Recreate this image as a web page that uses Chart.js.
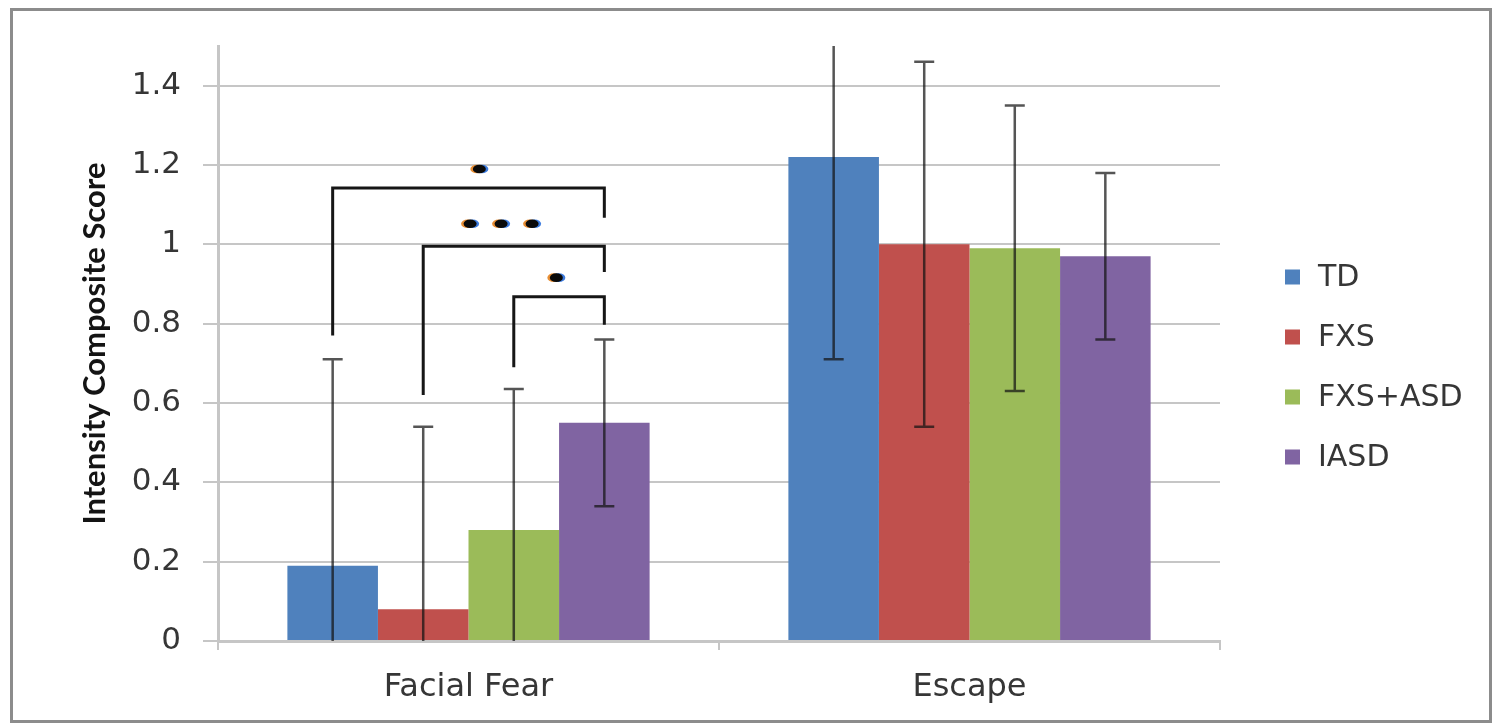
<!DOCTYPE html>
<html>
<head>
<meta charset="utf-8">
<title>Intensity Composite Score</title>
<script src="https://cdn.jsdelivr.net/npm/chart.js@4.4.1/dist/chart.umd.min.js"></script>
<style>
  html, body { margin: 0; padding: 0; background: #ffffff; }
  canvas { display: block; }
</style>
</head>
<body>
<canvas id="chart" width="1500" height="727"></canvas>
<script>
// ---- data ----
const categories = ['Facial Fear', 'Escape'];
const groups = ['TD', 'FXS', 'FXS+ASD', 'IASD'];

const tdMeans     = [0.19, 1.22];
const fxsMeans    = [0.08, 1.00];
const fxsAsdMeans = [0.28, 0.99];
const iasdMeans   = [0.55, 0.97];

// standard deviations (error bars, +/-)
const tdSD     = [0.52, 0.51];
const fxsSD    = [0.46, 0.46];
const fxsAsdSD = [0.355, 0.36];
const iasdSD   = [0.21, 0.21];

const yTickValues = [0, 0.2, 0.4, 0.6, 0.8, 1, 1.2, 1.4];
const yTickLabels = ['0', '0.2', '0.4', '0.6', '0.8', '1', '1.2', '1.4'];
const yAxisMax = 1.5;

// pairwise comparisons within Facial Fear (group indices, bracket heights in score units)
const comparisons = [
  { from: 0, to: 3, top: 1.142, leftFoot: 0.77, rightFoot: 1.067, stars: 1, starLevel: 1.19,  at: 0.54 },
  { from: 1, to: 3, top: 0.995, leftFoot: 0.62, rightFoot: 0.93,  stars: 3, starLevel: 1.052, at: 0.43 },
  { from: 2, to: 3, top: 0.868, leftFoot: 0.69, rightFoot: 0.797, stars: 1, starLevel: 0.916, at: 0.47 }
];

const groupColors = ['#4F81BD', '#C0504D', '#9BBB59', '#8064A2'];
const groupMeans = [tdMeans, fxsMeans, fxsAsdMeans, iasdMeans];
const groupSD = [tdSD, fxsSD, fxsAsdSD, iasdSD];

const TEXT = '#363636';
const GRID = '#c6c6c6';
const FONT = 'DejaVu Sans';

// ---- plugins ----
const frame = {
  id: 'frame',
  beforeDraw(chart) {
    const { ctx, width, height } = chart;
    ctx.save();
    ctx.fillStyle = '#ffffff';
    ctx.fillRect(0, 0, width, height);
    ctx.strokeStyle = '#8c8c8c';
    ctx.lineWidth = 3;
    ctx.strokeRect(11.5, 9.5, width - 21, height - 15);
    ctx.restore();
  }
};

const errorBars = {
  id: 'errorBars',
  afterDatasetsDraw(chart) {
    const { ctx, chartArea, scales: { y } } = chart;
    ctx.save();
    ctx.beginPath();
    ctx.rect(chartArea.left, chartArea.top, chartArea.right - chartArea.left, chartArea.bottom - chartArea.top);
    ctx.clip();
    ctx.strokeStyle = 'rgba(20,20,20,0.72)';
    ctx.lineWidth = 2.5;
    chart.data.datasets.forEach((ds, i) => {
      chart.getDatasetMeta(i).data.forEach((bar, j) => {
        const v = ds.data[j], sd = ds.sd[j];
        const yHi = y.getPixelForValue(v + sd);
        const yLo = y.getPixelForValue(v - sd);
        const x = bar.x;
        ctx.beginPath();
        ctx.moveTo(x, yLo); ctx.lineTo(x, yHi);
        ctx.moveTo(x - 10, yHi); ctx.lineTo(x + 10, yHi);
        ctx.moveTo(x - 10, yLo); ctx.lineTo(x + 10, yLo);
        ctx.stroke();
      });
    });
    ctx.restore();
  }
};

const brackets = {
  id: 'brackets',
  afterDatasetsDraw(chart) {
    const { ctx, scales: { y } } = chart;
    ctx.save();
    comparisons.forEach(c => {
      const x1 = chart.getDatasetMeta(c.from).data[0].x;
      const x2 = chart.getDatasetMeta(c.to).data[0].x;
      const yTop = y.getPixelForValue(c.top);
      ctx.strokeStyle = '#161616';
      ctx.lineWidth = 3;
      ctx.lineJoin = 'miter';
      ctx.beginPath();
      ctx.moveTo(x1, y.getPixelForValue(c.leftFoot));
      ctx.lineTo(x1, yTop);
      ctx.lineTo(x2, yTop);
      ctx.lineTo(x2, y.getPixelForValue(c.rightFoot));
      ctx.stroke();

      const cx = x1 + (x2 - x1) * c.at;
      const cy = y.getPixelForValue(c.starLevel);
      const gap = 31;
      for (let k = 0; k < c.stars; k++) {
        const sx = cx + (k - (c.stars - 1) / 2) * gap;
        [['rgba(230,130,30,0.9)', -2.5], ['rgba(40,110,220,0.9)', 2.5], ['#0a0a0a', 0]].forEach(([col, dx]) => {
          ctx.fillStyle = col;
          ctx.beginPath();
          ctx.ellipse(sx + dx, cy, 6.5, 4.3, 0, 0, Math.PI * 2);
          ctx.fill();
        });
      }
    });
    ctx.restore();
  }
};

const sideLegend = {
  id: 'sideLegend',
  afterDraw(chart) {
    const { ctx, chartArea } = chart;
    ctx.save();
    ctx.font = '30px "' + FONT + '"';
    ctx.textBaseline = 'middle';
    ctx.textAlign = 'left';
    const x = chartArea.right + 65;
    const y0 = chartArea.top + 231;
    chart.data.datasets.forEach((ds, i) => {
      const yy = y0 + i * 60;
      ctx.fillStyle = ds.backgroundColor;
      ctx.fillRect(x, yy - 7.5, 15, 15);
      ctx.fillStyle = TEXT;
      ctx.fillText(ds.label, x + 33, yy + 1);
    });
    ctx.restore();
  }
};

// ---- chart ----
new Chart(document.getElementById('chart'), {
  type: 'bar',
  data: {
    labels: categories,
    datasets: groups.map((g, i) => ({
      label: g,
      data: groupMeans[i],
      sd: groupSD[i],
      backgroundColor: groupColors[i],
      borderWidth: 0,
      categoryPercentage: 0.723,
      barPercentage: 1.0
    }))
  },
  options: {
    responsive: false,
    animation: false,
    layout: { padding: { top: 46, right: 280, bottom: 0, left: 0 } },
    plugins: {
      legend: { display: false },
      tooltip: { enabled: false }
    },
    scales: {
      x: {
        ticks: { font: { family: FONT, size: 32 }, color: TEXT, padding: 18 },
        grid: { offset: true, drawOnChartArea: false, drawTicks: true, tickLength: 9, color: GRID, lineWidth: 2 },
        border: { color: GRID, width: 3 },
        afterFit: s => { s.height = 86; }
      },
      y: {
        min: 0,
        max: yAxisMax,
        afterBuildTicks: axis => { axis.ticks = yTickValues.map(v => ({ value: v })); },
        ticks: {
          callback: (v, i) => yTickLabels[i],
          font: { family: FONT, size: 31 },
          color: TEXT,
          padding: 22
        },
        grid: { color: GRID, lineWidth: 2, tickLength: 15, drawTicks: true },
        border: { color: GRID, width: 3 },
        title: {
          display: true,
          text: 'Intensity Composite Score',
          font: { family: 'Lato', size: 31, weight: 'bold' },
          color: '#141414',
          padding: { top: 76, bottom: 0 }
        },
        afterFit: s => { s.width = 218; }
      }
    }
  },
  plugins: [frame, errorBars, brackets, sideLegend]
});
</script>
</body>
</html>
